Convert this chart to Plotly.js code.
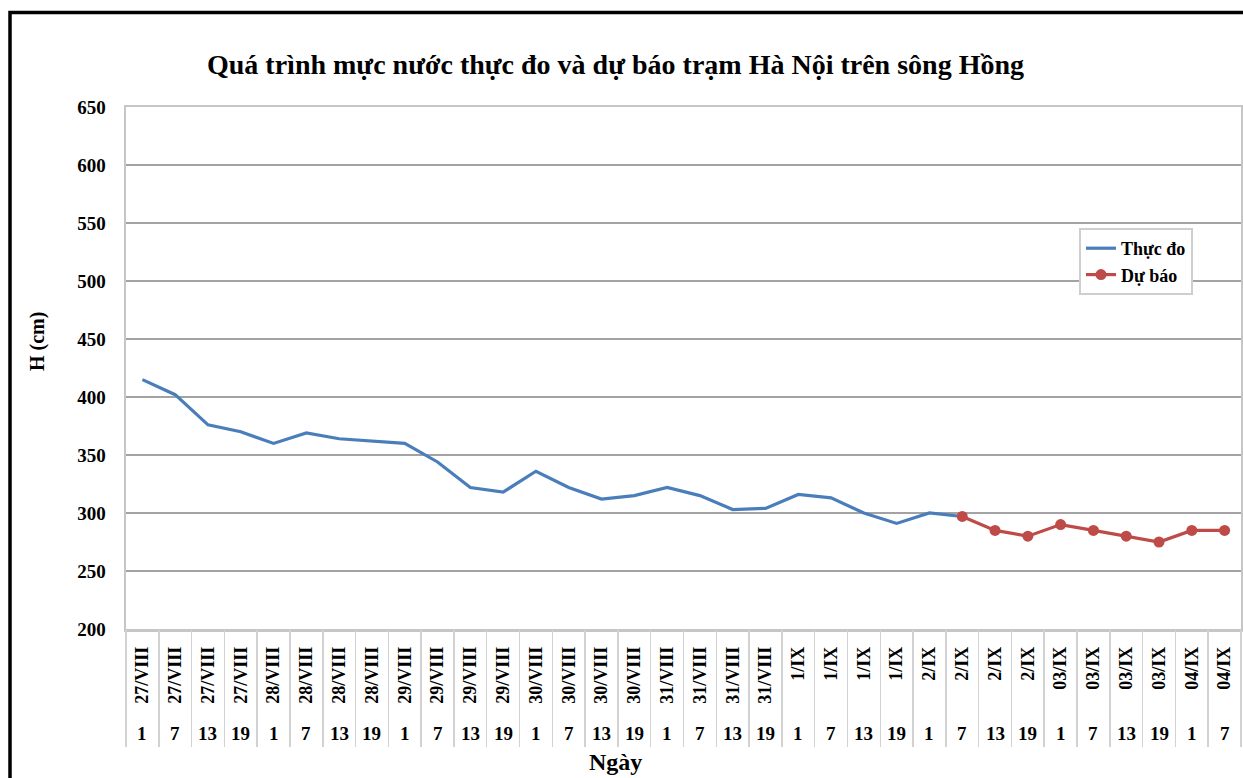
<!DOCTYPE html>
<html>
<head>
<meta charset="utf-8">
<script src="https://cdn.plot.ly/plotly-3.0.1.min.js"></script>
<style>html,body{margin:0;padding:0;background:#fff;}#chart{width:1243px;height:778px;}</style>
</head>
<body>
<div id="chart"></div>
<script>
// ---- data ----
const dates = ["27/VIII","27/VIII","27/VIII","27/VIII","28/VIII","28/VIII","28/VIII","28/VIII",
  "29/VIII","29/VIII","29/VIII","29/VIII","30/VIII","30/VIII","30/VIII","30/VIII",
  "31/VIII","31/VIII","31/VIII","31/VIII","1/IX","1/IX","1/IX","1/IX",
  "2/IX","2/IX","2/IX","2/IX","03/IX","03/IX","03/IX","03/IX","04/IX","04/IX"];
const hours = ["1","7","13","19","1","7","13","19","1","7","13","19","1","7","13","19",
  "1","7","13","19","1","7","13","19","1","7","13","19","1","7","13","19","1","7"];
const observed = [415,402,376,370,360,369,364,362,360,344,322,318,336,322,312,315,
  322,315,303,304,316,313,300,291,300,297,null,null,null,null,null,null,null,null];
const forecast = [null,null,null,null,null,null,null,null,null,null,null,null,null,null,null,null,
  null,null,null,null,null,null,null,null,null,297,285,280,290,285,280,275,285,285];
const yTicks = [200,250,300,350,400,450,500,550,600,650];

const idx = dates.map((_, i) => i);
const bounds = dates.concat([""]).map((_, i) => i - 0.5);

const serif = "Liberation Serif, Times New Roman, serif";
const W = 1243, H = 778, ML = 126, MR = 2, MT = 107, MB = 149;
const plotW = W - ML - MR, plotH = H - MT - MB;
const py = p => (H - MB - p) / plotH;   // pixel y -> paper y
const px = p => (p - ML) / plotW;       // pixel x -> paper x

const traces = [
  {x: idx, y: observed, name: "Thực đo", type: "scatter", mode: "lines",
   line: {color: "#4a7ebb", width: 3.2}, connectgaps: false},
  {x: idx, y: forecast, name: "Dự báo", type: "scatter", mode: "lines+markers",
   line: {color: "#be4b48", width: 3.2}, marker: {color: "#be4b48", size: 11}},
  {x: idx, y: idx.map(() => null), xaxis: "x2", yaxis: "y", showlegend: false,
   hoverinfo: "skip", mode: "lines"}
];

const hourAnn = hours.map((h, i) => ({
  x: i, xref: "x", y: py(733), yref: "paper", text: h, showarrow: false,
  yanchor: "middle", xanchor: "center",
  font: {family: serif, size: 19, weight: "bold", color: "#000"}
}));

const layout = {
  width: W, height: H,
  margin: {l: ML, r: MR, t: MT, b: MB, pad: 0, autoexpand: false},
  paper_bgcolor: "#fff", plot_bgcolor: "#fff",
  font: {family: serif, color: "#000", weight: "bold"},
  title: {text: "Quá trình mực nước thực đo và dự báo trạm Hà Nội trên sông Hồng",
    x: 615.5 / W, xanchor: "center", y: 1 - 64 / H, yanchor: "middle",
    font: {family: serif, size: 28, weight: "bold", color: "#000"}},
  xaxis: {
    range: [-0.5, dates.length - 0.5], tickmode: "array", tickvals: idx, ticktext: dates,
    tickangle: -90, ticks: "", ticklabelstandoff: 8,
    tickfont: {family: serif, size: 18, weight: "bold", color: "#000"},
    showgrid: false, zeroline: false, showline: true, linecolor: "#c6c6c6", linewidth: 2.5,
    mirror: true, fixedrange: true
  },
  xaxis2: {
    overlaying: "x", anchor: "y", side: "bottom", matches: "x",
    range: [-0.5, dates.length - 0.5], tickmode: "array", tickvals: bounds,
    ticks: "outside", ticklen: 117, tickwidth: 1.5, tickcolor: "#d2d2d2",
    showticklabels: false, showgrid: false, zeroline: false, showline: false
  },
  yaxis: {
    range: [200, 650], tickmode: "array", tickvals: yTicks, ticks: "", ticklabelstandoff: 14,
    tickfont: {family: serif, size: 19, weight: "bold", color: "#000"},
    showgrid: true, gridcolor: "#a3a3a3", gridwidth: 1.3, zeroline: false,
    showline: true, linecolor: "#c6c6c6", linewidth: 2.5, mirror: true, fixedrange: true
  },
  legend: {
    x: px(1079), y: py(228), xanchor: "left", yanchor: "top",
    bgcolor: "#fff", bordercolor: "#cfcfcf", borderwidth: 2,
    font: {family: serif, size: 18, weight: "bold", color: "#000"},
    tracegroupgap: 4, itemwidth: 30
  },
  annotations: hourAnn.concat([{
    text: "H (cm)", textangle: -90, showarrow: false, xref: "paper", yref: "paper",
    x: px(37), y: py(342), xanchor: "center", yanchor: "middle",
    font: {family: serif, size: 20, weight: "bold", color: "#000"}
  }, {
    text: "Ngày", showarrow: false, xref: "paper", yref: "paper",
    x: px(615), y: py(762), xanchor: "center", yanchor: "middle",
    font: {family: serif, size: 24, weight: "bold", color: "#000"}
  }]),
  shapes: [{
    type: "rect", xref: "paper", yref: "paper", layer: "above",
    x0: px(10), x1: px(W + 20), y0: py(H + 20), y1: py(12.5),
    line: {color: "#000", width: 3.5}, fillcolor: "rgba(0,0,0,0)"
  }]
};

Plotly.newPlot("chart", traces, layout, {displayModeBar: false, staticPlot: true});
</script>
</body>
</html>
